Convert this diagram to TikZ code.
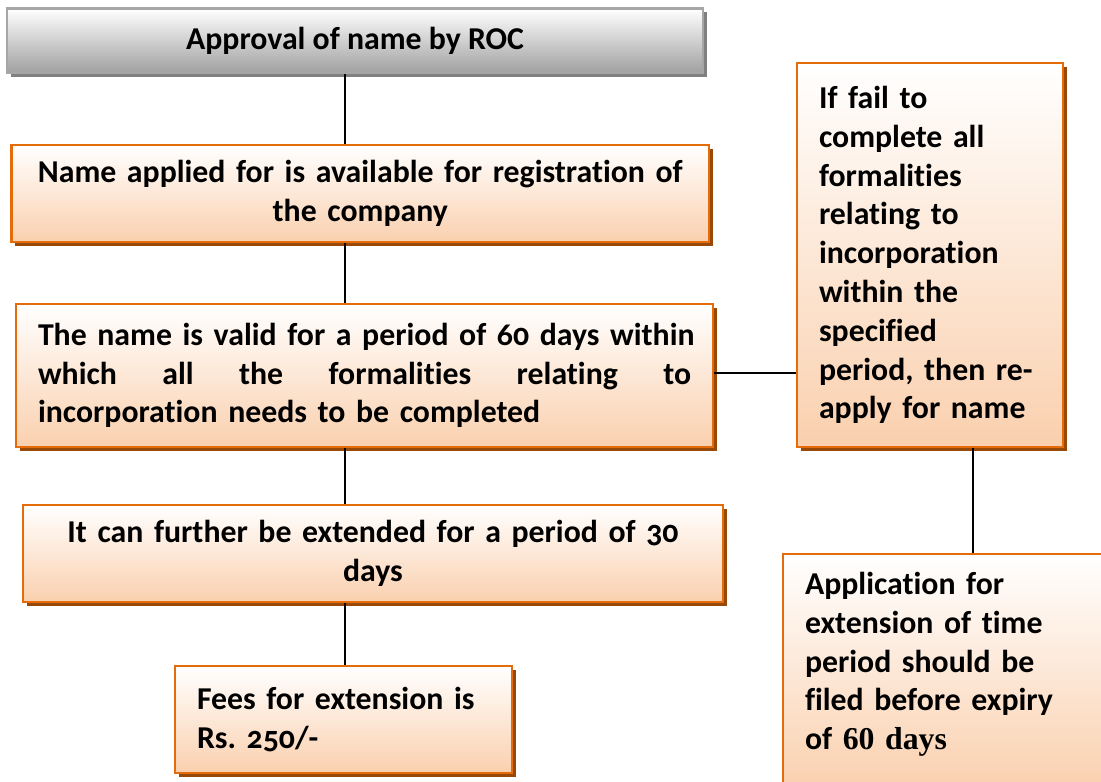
\documentclass[tikz,border=0pt]{standalone}
\usepackage{fontspec}
\setmainfont{Carlito}[Numbers=OldStyle,Ligatures=NoCommon]
\newfontfamily\timesfont{Liberation Serif}
\usetikzlibrary{shadows}
\definecolor{boxline}{HTML}{E46C0A}
\definecolor{boxfill}{HTML}{FAD0AE}
\definecolor{boxshade}{HTML}{984807}
\definecolor{grayline}{HTML}{A6A6A6}
\definecolor{grayfill}{HTML}{A0A0A0}
\frenchspacing
\begin{document}
\begin{tikzpicture}[x=0.5pt,y=-0.5pt,
	orangebox/.style={draw=boxline,line width=1.1pt,top color=white,bottom color=boxfill,
		drop shadow={shadow xshift=1.8pt,shadow yshift=-1.8pt,fill=boxshade,opacity=1},
		inner sep=0pt,font=\fontsize{15.9}{19.4}\selectfont\bfseries},
	graybox/.style={orangebox,draw=grayline,bottom color=grayfill,
		drop shadow={shadow xshift=1.8pt,shadow yshift=-1.8pt,fill=black!50,opacity=1}},
	link/.style={line width=1.2pt}]
	\useasboundingbox (0,0) rectangle (1101,781);
	% Left column
	\node [graybox,minimum width=348pt,minimum height=32.25pt] (roc) at (355,40.75) {Approval of name by ROC};
	\node [orangebox,minimum width=348.75pt,minimum height=48.5pt,text width=340pt,align=center] (avail) at (360.25,193.5)
		{Name applied for is available for registration of\\the company};
	\node [orangebox,minimum width=348.5pt,minimum height=71.5pt,text width=326.5pt,align=left] (valid) at (364.5,375.5)
		{\makebox[326.5pt][s]{The name is valid for a period of 60 days within}\\\makebox[326.5pt][s]{which\hfill all\hfill the\hfill formalities\hfill relating\hfill to}\\incorporation needs to be completed};
	\node [orangebox,minimum width=350pt,minimum height=48.5pt,text width=340pt,align=center] (extend) at (373,553.5)
		{It can further be extended for a period of 30\\days};
	\node [orangebox,minimum width=168.5pt,minimum height=53.5pt,text width=146.5pt,align=left] (fees) at (343.5,719.5)
		{Fees for extension is\\Rs. 250/-};
	% Right column
	\node [orangebox,minimum width=133pt,minimum height=192pt,text width=111pt,align=left] (fail) at (930,255)
		{If fail to\\complete all\\formalities\\relating to\\incorporation\\within the\\specified\\period, then re-\\apply for name};
	\node [orangebox,minimum width=164pt,minimum height=118pt,text width=142pt,align=left] (appl) at (947,672)
		{Application for\\extension of time\\period should be\\filed before expiry\\of {\timesfont\bfseries 60 days}\rule[-11pt]{0pt}{11pt}};
	% Connectors
	\coordinate (spine) at (345,0);
	\coordinate (drop) at (973,0);
	\draw [link] (roc.south -| spine) -- (avail.north -| spine);
	\draw [link] (avail.south -| spine) -- (valid.north -| spine);
	\draw [link] (valid.south -| spine) -- (extend.north -| spine);
	\draw [link] (extend.south -| spine) -- (fees.north -| spine);
	\draw [link] (valid.east |- 0,373) -- (fail.west |- 0,373);
	\draw [link] (fail.south -| drop) -- (appl.north -| drop);
\end{tikzpicture}
\end{document}
